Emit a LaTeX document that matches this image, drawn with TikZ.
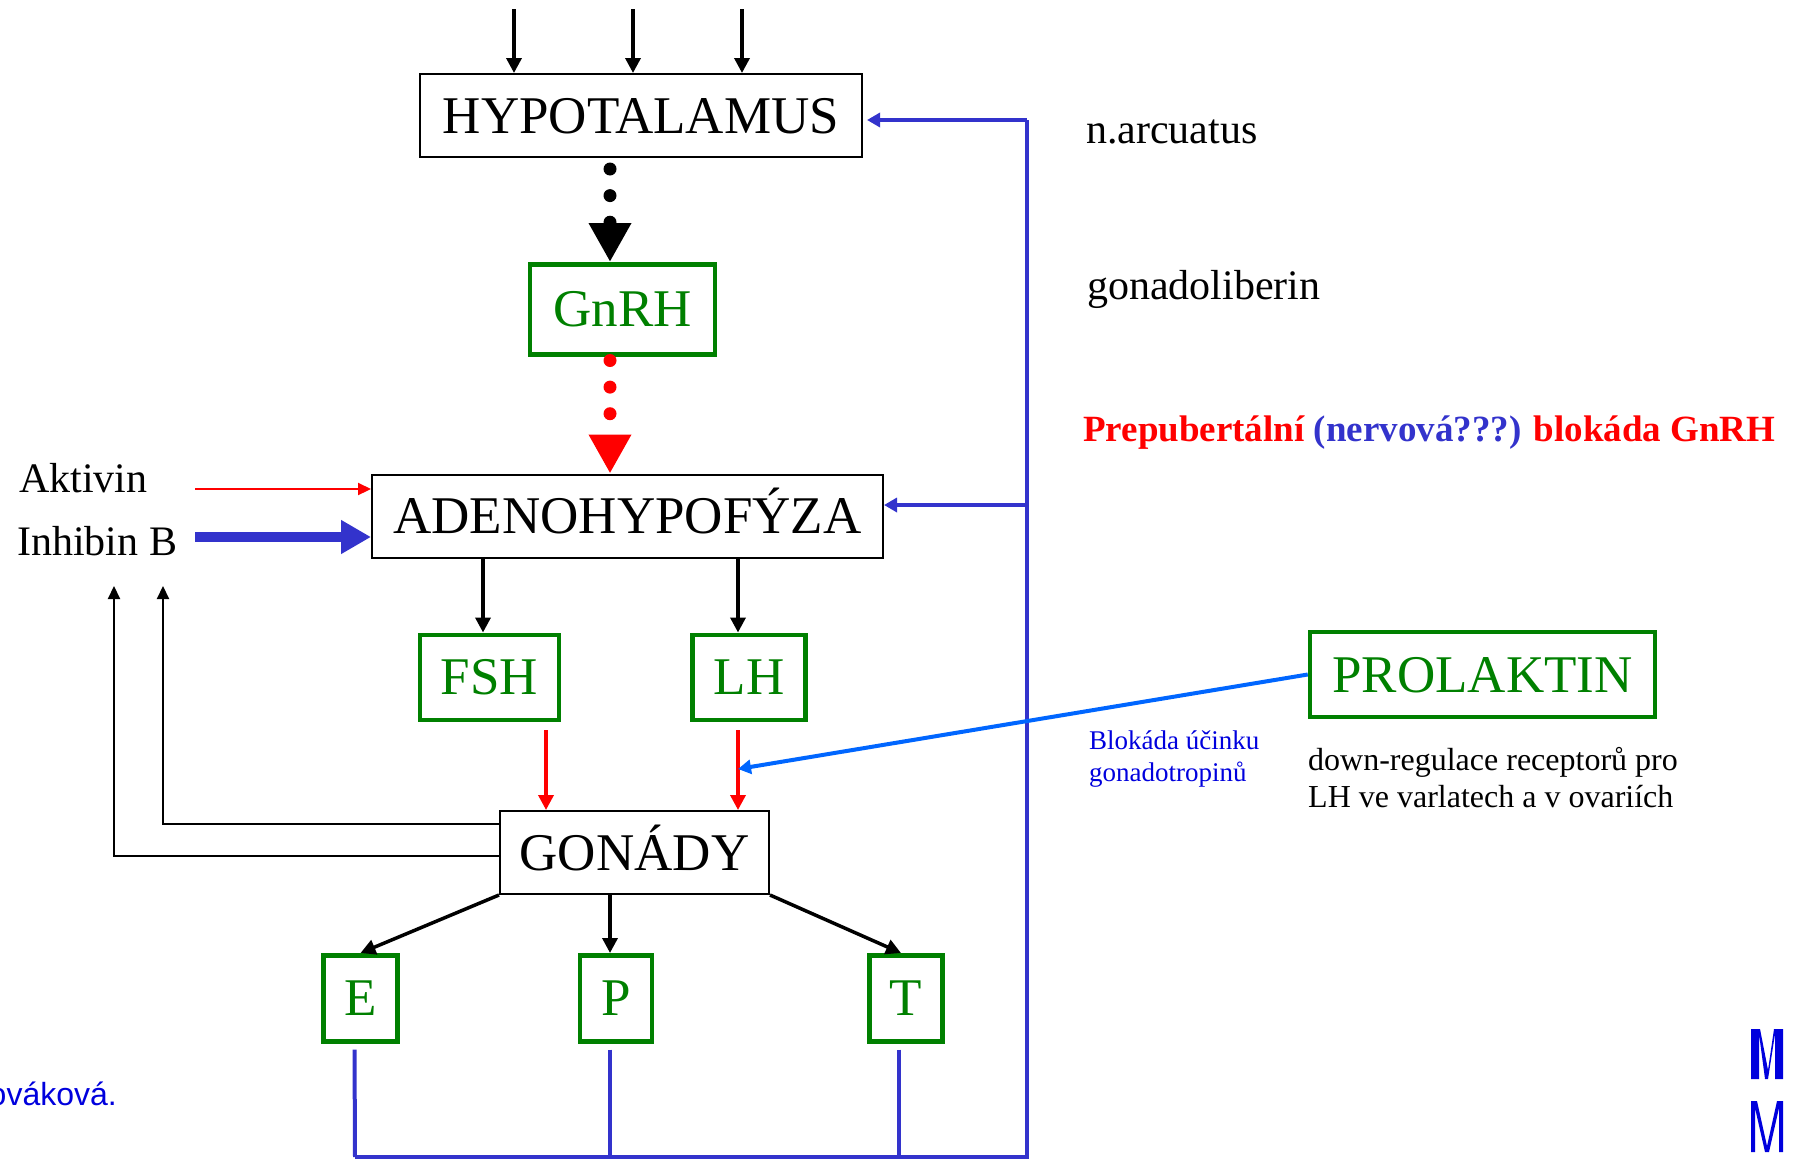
\documentclass[tikz,border=0pt]{standalone}
\usepackage{fontspec}
\setmainfont{Liberation Serif}
\setsansfont{Liberation Sans}
\usetikzlibrary{positioning,arrows.meta}
\definecolor{hgreen}{HTML}{008000}
\definecolor{fbblue}{HTML}{3333CC}
\definecolor{prlblue}{HTML}{0066FF}
\definecolor{logoblue}{HTML}{0000DD}
\tikzset{organ/.style={draw,line width=2pt,inner sep=0pt,text height=35pt,text depth=0pt,
		font=\fontsize{53}{60}\selectfont},
	 hormon/.style={draw=hgreen,text=hgreen,line width=4.5pt,inner sep=0pt,text height=35pt,text depth=0pt,
		font=\fontsize{53}{60}\selectfont},
	 note/.style={anchor=base west,inner sep=0pt,font=\fontsize{42}{50}\selectfont},
	 smallnote/.style={anchor=base west,inner sep=0pt,font=\fontsize{32}{38}\selectfont},
	 stim/.style={line width=3.5pt,-{Triangle[length=15pt,width=15pt]}},
	 thinarrow/.style={line width=2.2pt,-{Triangle[length=13pt,width=12pt]}},
	 feedback/.style={fbblue,line width=4pt},
	 dotline/.style={line width=13pt,line cap=round,dash pattern=on 0pt off 26.6pt,
		-{Triangle[length=39pt,width=40pt]}}
	 }

\begin{document}
\begin{tikzpicture}[x=1pt,y=-1pt]% y runs down, one unit per reference pixel
	\useasboundingbox (0,0) rectangle (1795,1159);
	\node[organ,minimum width=442pt,minimum height=83pt] (hypo) at (641,115.5) {HYPOTALAMUS};
	\node[hormon,minimum width=185pt,minimum height=90pt] (gnrh) [below=104pt of hypo,xshift=-18.5pt] {GnRH};
	\node[organ,minimum width=511pt,minimum height=83pt] (adeno) [below=117pt of gnrh,xshift=5pt] {ADENOHYPOFÝZA};
	\node[hormon,minimum width=139pt,minimum height=85pt] (fsh) [below=74pt of adeno,xshift=-138pt] {FSH};
	\node[hormon,minimum width=113pt,minimum height=85pt] (lh) [right=129pt of fsh] {LH};
	\node[organ,minimum width=269pt,minimum height=83pt] (gon) [below=88pt of fsh,xshift=145pt] {GONÁDY};
	\node[hormon,minimum width=74pt,minimum height=86pt] (e) [below=58pt of gon,xshift=-274pt] {E};
	\node[hormon,minimum width=72pt,minimum height=86pt] (p) [right=178pt of e] {P};
	\node[hormon,minimum width=73pt,minimum height=86pt] (t) [right=213pt of p] {T};
	\node[hormon,minimum width=345pt,minimum height=85pt] (prl) at (1482.5,674.5) {PROLAKTIN};

	\node[note] (narc) at (1086,143) {n.arcuatus};
	\node[note] (gonlib) at (1087,299) {gonadoliberin};
	\node[anchor=base west,inner sep=0pt,font=\fontsize{37}{44}\selectfont\bfseries,text=red] (block) at (1083,441)
		{Prepubertální \textcolor{fbblue}{(nervová???)} blokáda GnRH};
	\node[note] (akt) at (19,492) {Aktivin};
	\node[note] (inh) at (17,555) {Inhibin B};
	\node[smallnote,text=logoblue,font=\fontsize{27}{32}\selectfont] (bl1) at (1089,749) {Blokáda účinku};
	\node[smallnote,text=logoblue,font=\fontsize{27}{32}\selectfont] (bl2) at (1089,781) {gonadotropinů};
	\node[smallnote] (down1) at (1308,770) {down-regulace receptorů pro};
	\node[smallnote] (down2) at (1308,807) {LH ve varlatech a v ovariích};
	\node[anchor=base east,inner sep=0pt,text=logoblue,font=\sffamily\fontsize{32}{38}\selectfont] (auth) at (117,1105) {ováková.};

	\coordinate (in1) at (514,9);
	\coordinate (in2) at (633,9);
	\coordinate (in3) at (742,9);
	\coordinate (axis) at (610,0);
	\coordinate (fshx) at (483,0);
	\coordinate (lhx) at (738,0);
	\coordinate (fshr) at (546,0);
	\coordinate (inhup) at (163,586);
	\coordinate (aktup) at (114,586);
	\coordinate (aktst) at (195,489);
	\coordinate (inhst) at (195,537);
	\coordinate (prlend) at (738,769);
	\coordinate (busE) at (355,1157);
	\coordinate (busP) at (610,1157);
	\coordinate (busT) at (899,1157);
	\coordinate (busR) at (1027,1157);
	\coordinate (topR) at (1027,120);
	\coordinate (midR) at (1027,505);

	\draw[stim] (in1) to (in1 |- hypo.north);
	\draw[stim] (in2) to (in2 |- hypo.north);
	\draw[stim] (in3) to (in3 |- hypo.north);
	\draw[dotline,shorten <=11pt] (axis |- hypo.south) to (axis |- gnrh.north);
	\draw[dotline,red,shorten <=4pt] (axis |- gnrh.south) to (axis |- adeno.north);
	\draw[stim] (fshx |- adeno.south) to (fshx |- fsh.north);
	\draw[stim] (lhx |- adeno.south) to (lhx |- lh.north);
	\draw[stim,red,shorten <=8pt] (fshr |- fsh.south) to (fshr |- gon.north);
	\draw[stim,red,shorten <=8pt] (lhx |- lh.south) to (lhx |- gon.north);
	\draw[stim] (gon.south west) to (e.north);
	\draw[stim] (axis |- gon.south) to (axis |- p.north);
	\draw[stim] (gon.south east) to ([xshift=-5pt]t.north);
	\draw[thinarrow,red] (aktst) to (adeno.west |- aktst);
	\draw[fbblue,line width=10pt,-{Triangle[length=30pt,width=32pt]}] (inhst) to (adeno.west |- inhst);
	\draw[thinarrow] (gon.west |- 0,824) -| (inhup);
	\draw[thinarrow] (gon.west |- 0,856) -| (aktup);
	\draw[feedback,shorten <=6pt] ([xshift=-6pt]e.south) to (busE);
	\draw[feedback,shorten <=6pt] (axis |- p.south) to (busP);
	\draw[feedback,shorten <=6pt] (busT |- t.south) to (busT);
	\draw[feedback] (busE) to (busR) to (topR);
	\draw[feedback,-{Triangle[length=13pt,width=14pt]},shorten >=4pt] (topR) to (hypo.east |- topR);
	\draw[feedback,-{Triangle[length=13pt,width=14pt]}] (midR) to (adeno.east |- midR);
	\draw[prlblue,line width=4pt,-{Triangle[length=13pt,width=14pt]}] (prl.west) to (prlend);

	% masaryk logo letters
	\fill[logoblue] (1751,1029) -- (1760,1029) -- (1768,1070) -- (1774,1029) -- (1783,1029) -- (1783,1079)
		-- (1775,1079) -- (1775,1034) -- (1768,1079) -- (1765,1079) -- (1759,1034) -- (1759,1079) -- (1751,1079) -- cycle;
	\fill[logoblue] (1751,1101) -- (1757,1101) -- (1767,1146) -- (1777,1101) -- (1783,1101) -- (1783,1152)
		-- (1779,1152) -- (1779,1108) -- (1769,1152) -- (1765,1152) -- (1755,1108) -- (1755,1152) -- (1751,1152) -- cycle;
\end{tikzpicture}
\end{document}
